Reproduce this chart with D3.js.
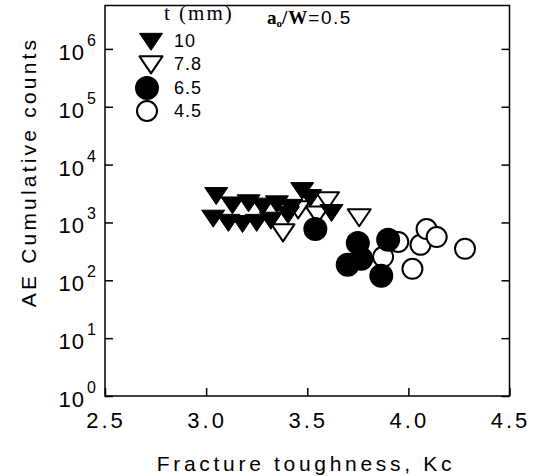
<!DOCTYPE html>
<html>
<head>
<meta charset="utf-8">
<script src="https://cdn.jsdelivr.net/npm/d3@7/dist/d3.min.js"></script>
<style>
  html, body { margin: 0; padding: 0; background: #fff; }
  svg { display: block; }
  text { fill: #000; }
</style>
</head>
<body>
<svg id="chart" width="536" height="476"></svg>
<script>
// Specimen thickness series (t, mm) and their measured points:
// fracture toughness Kc vs. AE cumulative counts
const seriesNames = ["10", "7.8", "6.5", "4.5"];

const kc10 = [3.05, 3.035, 3.11, 3.18, 3.25, 3.32, 3.13, 3.21, 3.28, 3.35, 3.42, 3.405, 3.475, 3.515, 3.62];
const ae10 = [3200, 1300, 1100, 1050, 1100, 1200, 2200, 2400, 2100, 2300, 2000, 1500, 3900, 2950, 1630];

const kc78 = [3.38, 3.455, 3.55, 3.60, 3.757];
const ae78 = [740, 1850, 1500, 2650, 1350];

const kc65 = [3.54, 3.75, 3.70, 3.767, 3.90, 3.866];
const ae65 = [770, 440, 185, 235, 500, 120];

const kc45 = [3.875, 3.95, 4.02, 4.06, 4.09, 4.14, 4.28];
const ae45 = [255, 460, 158, 410, 770, 560, 350];

const xTicks = [2.5, 3.0, 3.5, 4.0, 4.5];
const yExponents = [0, 1, 2, 3, 4, 5, 6];

const svg = d3.select("#chart");
const plotL = 105, plotR = 509.5, plotT = 5.5, plotB = 396;

const x = d3.scaleLinear().domain([2.5, 4.5]).range([plotL, plotR]);
const y = d3.scaleLog().domain([1, Math.pow(10, 6.75)]).range([plotB, plotT]);

const fontSans = "'Liberation Sans', Arial, sans-serif";
const fontSerif = "'Liberation Serif', 'Times New Roman', serif";

// Frame
svg.append("rect")
  .attr("x", plotL).attr("y", plotT)
  .attr("width", plotR - plotL).attr("height", plotB - plotT)
  .attr("fill", "none").attr("stroke", "#000").attr("stroke-width", 1.5);

// Axes with inward ticks
const tickVals = yExponents.map(e => Math.pow(10, e));
const yAxisL = d3.axisLeft(y).tickValues(tickVals).tickSize(-8).tickFormat("");
const yAxisR = d3.axisRight(y).tickValues(tickVals).tickSize(-8).tickFormat("");
const xAxisB = d3.axisBottom(x).tickValues(xTicks).tickSize(-8).tickFormat("");

function styleAxis(g) {
  g.select(".domain").remove();
  g.selectAll(".tick line").attr("stroke", "#000").attr("stroke-width", 1.5);
}
svg.append("g").attr("transform", `translate(${plotL},0)`).call(yAxisL).call(styleAxis);
svg.append("g").attr("transform", `translate(${plotR},0)`).call(yAxisR).call(styleAxis);
svg.append("g").attr("transform", `translate(0,${plotB})`).call(xAxisB).call(styleAxis);

// Y tick labels: 10 with superscript exponent
const yl = svg.append("g");
yExponents.forEach(e => {
  yl.append("text")
    .attr("x", 85).attr("y", y(Math.pow(10, e)) + 11)
    .attr("text-anchor", "end")
    .attr("font-family", fontSans).attr("font-size", 22)
    .attr("letter-spacing", 1)
    .text("10");
  yl.append("text")
    .attr("x", 87).attr("y", y(Math.pow(10, e)) - 3)
    .attr("font-family", fontSans).attr("font-size", 16)
    .text(e);
});

// X tick labels
svg.append("g").selectAll("text").data(xTicks).join("text")
  .attr("x", d => x(d) + 1).attr("y", 428)
  .attr("text-anchor", "middle")
  .attr("font-family", fontSans).attr("font-size", 22)
  .attr("letter-spacing", 3)
  .text(d => d.toFixed(1));

// Axis titles
svg.append("text")
  .attr("x", 306).attr("y", 471)
  .attr("text-anchor", "middle")
  .attr("font-family", fontSans).attr("font-size", 21)
  .attr("letter-spacing", 3.7)
  .text("Fracture toughness, Kc");

svg.append("text")
  .attr("transform", "translate(36,172) rotate(-90)")
  .attr("text-anchor", "middle")
  .attr("font-family", fontSans).attr("font-size", 21)
  .attr("letter-spacing", 3.2)
  .text("AE Cumulative counts");

// Marker shapes
const triW = 23, triH = 17, rad = 11;
function triPath(cx, cy) {
  // downward-pointing triangle, centroid at (cx, cy)
  const yt = cy - triH / 3, yb = cy + 2 * triH / 3;
  return `M${cx - triW / 2},${yt}L${cx + triW / 2},${yt}L${cx},${yb}Z`;
}

const series = [
  { kc: kc78, ae: ae78, shape: "tri", filled: false },
  { kc: kc45, ae: ae45, shape: "circle", filled: false },
  { kc: kc10, ae: ae10, shape: "tri", filled: true },
  { kc: kc65, ae: ae65, shape: "circle", filled: true }
];

const marks = svg.append("g");
series.forEach(s => {
  const pts = s.kc.map((k, i) => ({ k, v: s.ae[i] }));
  if (s.shape === "tri") {
    marks.append("g").selectAll("path").data(pts).join("path")
      .attr("d", d => triPath(x(d.k), y(d.v)))
      .attr("fill", s.filled ? "#000" : "#fff")
      .attr("stroke", "#000").attr("stroke-width", s.filled ? 1 : 2)
      .attr("stroke-linejoin", "round");
  } else {
    marks.append("g").selectAll("circle").data(pts).join("circle")
      .attr("cx", d => x(d.k)).attr("cy", d => y(d.v))
      .attr("r", s.filled ? rad : rad - 1)
      .attr("fill", s.filled ? "#000" : "#fff")
      .attr("stroke", "#000").attr("stroke-width", 2);
  }
});

// Legend
const lg = svg.append("g");
lg.append("text")
  .attr("x", 164).attr("y", 20)
  .attr("font-family", fontSerif).attr("font-size", 21)
  .attr("letter-spacing", 2)
  .text("t (mm)");

const aw = lg.append("text")
  .attr("x", 267).attr("y", 24)
  .attr("font-family", fontSerif).attr("font-size", 19).attr("font-weight", "bold");
aw.append("tspan").text("a");
aw.append("tspan").attr("font-size", 11).attr("dy", 3).text("o");
aw.append("tspan").attr("dy", -3).attr("letter-spacing", 1).text("/W");
aw.append("tspan").attr("font-family", fontSans).attr("font-weight", "normal")
  .attr("letter-spacing", 1.5).text("=0.5");

const legendRows = [
  { shape: "tri", filled: true, cy: 39 },
  { shape: "tri", filled: false, cy: 62 },
  { shape: "circle", filled: true, cy: 88 },
  { shape: "circle", filled: false, cy: 111 }
];
legendRows.forEach((r, i) => {
  if (r.shape === "tri") {
    lg.append("path")
      .attr("d", triPath(151, r.cy))
      .attr("fill", r.filled ? "#000" : "#fff")
      .attr("stroke", "#000").attr("stroke-width", r.filled ? 1 : 2)
      .attr("stroke-linejoin", "round");
  } else {
    lg.append("circle")
      .attr("cx", 147).attr("cy", r.cy)
      .attr("r", r.filled ? rad : rad - 1)
      .attr("fill", r.filled ? "#000" : "#fff")
      .attr("stroke", "#000").attr("stroke-width", 2);
  }
  lg.append("text")
    .attr("x", 174).attr("y", (r.shape === "tri" ? r.cy + 2 : r.cy) + 6)
    .attr("font-family", fontSans).attr("font-size", 18)
    .attr("letter-spacing", 1)
    .text(seriesNames[i]);
});
</script>
</body>
</html>
